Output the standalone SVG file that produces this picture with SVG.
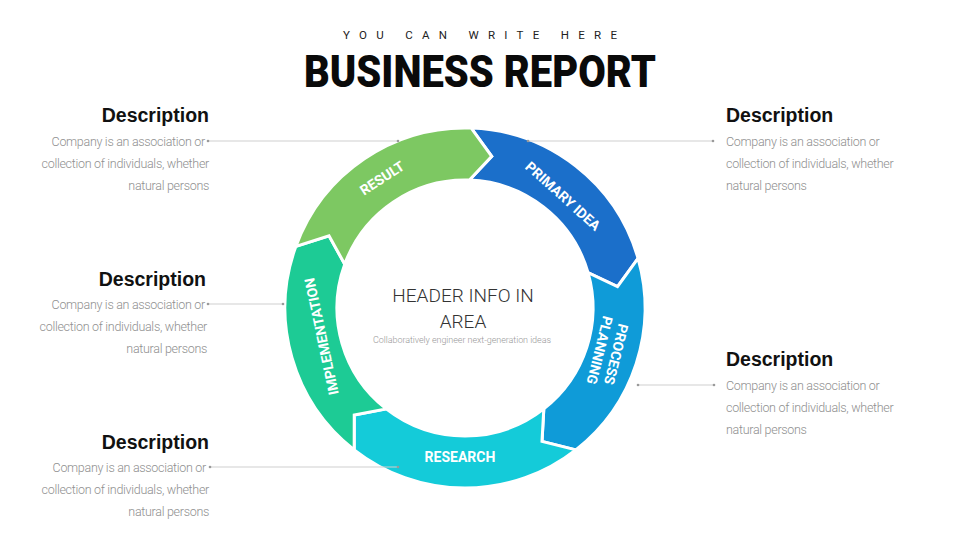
<svg xmlns="http://www.w3.org/2000/svg" width="960" height="540" viewBox="0 0 960 540">
<style>
.seg{stroke:#fff;stroke-width:3;stroke-linejoin:miter}
.lbl{font-family:Roboto,"Liberation Sans",sans-serif;font-weight:700;font-size:14px;fill:#fff;text-anchor:middle}
.hd{font-family:"Liberation Sans",Arial,sans-serif;font-weight:700;font-size:19.5px;fill:#111}
.bd{font-family:Roboto,"Liberation Sans",sans-serif;font-weight:300;font-size:12.5px;letter-spacing:-0.3px;fill:#8f8f8f}
.ln{stroke:#cfcfcf;stroke-width:1;fill:none}
.dot{fill:#9a9a9a}
</style>
<rect width="960" height="540" fill="#fff"/>
<g id="title">
<text x="480" y="39" font-family="Roboto,'Liberation Sans',sans-serif" font-size="11.5" fill="#222" text-anchor="middle" textLength="274" lengthAdjust="spacing">YOU CAN WRITE HERE</text>
<text x="480" y="86.5" font-family="Roboto,'Liberation Sans',sans-serif" font-weight="900" font-size="45" fill="#0a0a0a" text-anchor="middle" textLength="352" lengthAdjust="spacingAndGlyphs">BUSINESS REPORT</text>
</g>
<g id="primary-idea">
<path class="seg" fill="#1b6fca" d="M471.28,128.11 A180,180 0 0 1 638.03,258.39 L617.51,286.56 L588.05,272.72 A128,128 0 0 0 469.47,180.08 L491.73,156.34 Z"/>
<text class="lbl" transform="translate(563,196) rotate(42)" dy="0.36em">PRIMARY IDEA</text>
</g>
<g id="process-planning">
<path class="seg" fill="#0f9bd8" d="M638.03,258.39 A180,180 0 0 1 575.83,449.84 L542,441.36 L543.81,408.86 A128,128 0 0 0 588.05,272.72 L617.51,286.56 Z"/>
<g transform="translate(607,352) rotate(104)">
<text class="lbl" x="0" y="-4.5">PROCESS</text>
<text class="lbl" x="0" y="12.5">PLANNING</text>
</g>
</g>
<g id="research">
<path class="seg" fill="#14cbd9" d="M575.83,449.84 A180,180 0 0 1 354.17,449.84 L354.23,414.98 L386.19,408.86 A128,128 0 0 0 543.81,408.86 L542,441.36 Z"/>
<text class="lbl" x="460" y="457" dy="0.36em">RESEARCH</text>
</g>
<g id="implementation">
<path class="seg" fill="#1dcb95" d="M354.17,449.84 A180,180 0 0 1 295.85,246.44 L329.03,235.70 L344.72,264.22 A128,128 0 0 0 386.19,408.86 L354.23,414.98 Z"/>
<text class="lbl" transform="translate(321.5,336.5) rotate(-102)" dy="0.36em">IMPLEMENTATION</text>
</g>
<g id="result">
<path class="seg" fill="#7dc862" d="M295.85,246.44 A180,180 0 0 1 471.28,128.11 L491.73,156.34 L469.47,180.08 A128,128 0 0 0 344.72,264.22 L329.03,235.70 Z"/>
<text class="lbl" transform="translate(382,178) rotate(-33)" dy="0.36em">RESULT</text>
</g>
<g id="center">
<text x="463" y="302" font-family="Roboto,'Liberation Sans',sans-serif" font-weight="300" font-size="19" fill="#333" text-anchor="middle">HEADER INFO IN</text>
<text x="463" y="328" font-family="Roboto,'Liberation Sans',sans-serif" font-weight="300" font-size="19" fill="#333" text-anchor="middle">AREA</text>
<text x="462" y="343" font-family="Roboto,'Liberation Sans',sans-serif" font-weight="300" font-size="9" fill="#999" text-anchor="middle" textLength="178">Collaboratively engineer next-generation ideas</text>
</g>
<g id="connectors">
<line class="ln" x1="208" y1="141" x2="398" y2="141"/><circle class="dot" cx="208" cy="141" r="1.3"/><circle class="dot" cx="398" cy="141" r="1.3"/>
<line class="ln" x1="528" y1="141" x2="713" y2="141"/><circle class="dot" cx="528" cy="141" r="1.3"/><circle class="dot" cx="713" cy="141" r="1.3"/>
<line class="ln" x1="208" y1="304" x2="283" y2="304"/><circle class="dot" cx="208" cy="304" r="1.3"/><circle class="dot" cx="283" cy="304" r="1.3"/>
<line class="ln" x1="638" y1="385" x2="714" y2="385"/><circle class="dot" cx="638" cy="385" r="1.3"/><circle class="dot" cx="714" cy="385" r="1.3"/>
<line class="ln" x1="210" y1="467" x2="398" y2="467"/><circle class="dot" cx="210" cy="467" r="1.3"/><circle class="dot" cx="398" cy="467" r="1.3"/>
</g>
<g id="desc-left-top" text-anchor="end">
<text class="hd" x="209" y="122">Description</text>
<text class="bd" x="205" y="145.5">Company is an association or</text>
<text class="bd" x="209" y="167.5">collection of individuals, whether</text>
<text class="bd" x="209" y="189.5">natural persons</text>
</g>
<g id="desc-left-middle" text-anchor="end">
<text class="hd" x="206" y="286">Description</text>
<text class="bd" x="205" y="308.5">Company is an association or</text>
<text class="bd" x="207" y="330.5">collection of individuals, whether</text>
<text class="bd" x="207" y="352.5">natural persons</text>
</g>
<g id="desc-left-bottom" text-anchor="end">
<text class="hd" x="209" y="449">Description</text>
<text class="bd" x="206" y="471.5">Company is an association or</text>
<text class="bd" x="209" y="493.5">collection of individuals, whether</text>
<text class="bd" x="209" y="515.5">natural persons</text>
</g>
<g id="desc-right-top">
<text class="hd" x="726" y="122">Description</text>
<text class="bd" x="726" y="145.5">Company is an association or</text>
<text class="bd" x="726" y="167.5">collection of individuals, whether</text>
<text class="bd" x="726" y="189.5">natural persons</text>
</g>
<g id="desc-right-middle">
<text class="hd" x="726" y="366">Description</text>
<text class="bd" x="726" y="389.5">Company is an association or</text>
<text class="bd" x="726" y="411.5">collection of individuals, whether</text>
<text class="bd" x="726" y="433.5">natural persons</text>
</g>
</svg>
